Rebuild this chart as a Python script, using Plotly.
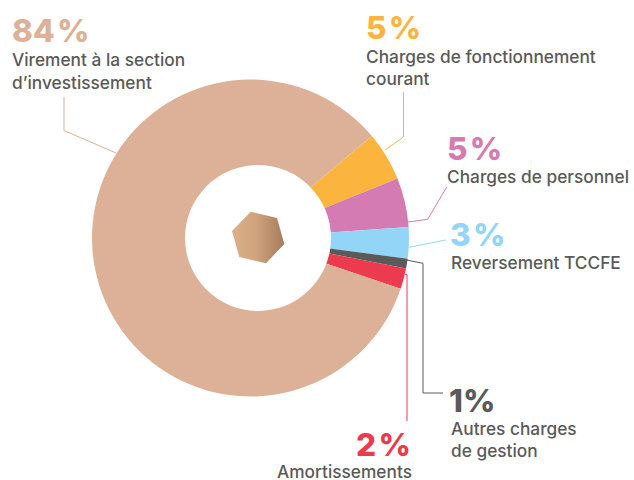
import plotly.graph_objects as go

W, H = 634, 480
FONT = "Inter"
labels = ["Charges de fonctionnement courant", "Charges de personnel", "Reversement TCCFE",
          "Autres charges de gestion", "Amortissements", "Virement à la section d'investissement"]
values = [5.0, 5.0, 3.2, 1.0, 2.1, 83.7]
colors = ["#FBB53F", "#D37BB2", "#93D5F7", "#5A5A58", "#EC3A4E", "#DDB198"]
GREY = "#5A5A58"

big = [("84\u200a%", 12, 30.5, "#DDB198", "left"), ("5\u200a%", 366, 27, "#FBB53F", "left"),
       ("5\u200a%", 447, 148, "#D37BB2", "left"), ("3\u200a%", 450, 234, "#93D5F7", "left"),
       ("1%", 449, 400, GREY, "left"), ("2\u200a%", 411, 444, "#EC3A4E", "right")]
small = [("Virement à la section", 12, 59, "left"), ("d’investissement", 12, 82, "left"),
         ("Charges de fonctionnement", 366, 56, "left"), ("courant", 366, 78, "left"),
         ("Charges de personnel", 447, 176, "left"), ("Reversement TCCFE", 451, 262, "left"),
         ("Autres charges", 451, 428, "left"), ("de gestion", 451, 450, "left"),
         ("Amortissements", 412, 471, "right")]
leaders = [([64, 64, 116], [97, 130.5, 153], "#DDB198"),
           ([403.5, 403.5, 385], [92, 137, 150], "#FBB53F"),
           ([446.7, 427.7, 408], [187, 219.3, 222], "#D37BB2"),
           ([409, 445.7], [247.3, 240], "#93D5F7"),
           ([406.7, 423, 423, 443], [260, 263.3, 393, 393], GREY),
           ([405, 407, 407], [274.3, 274.3, 421], "#EC3A4E")]
hexagon_x = [250.7, 277, 284.3, 266, 239.3, 232, 250.7]
hexagon_y = [211.7, 218, 244, 263.3, 257, 231, 211.7]

fig = go.Figure()
fig.add_trace(go.Pie(labels=labels, values=values, hole=40 / 158.5, rotation=50, direction="clockwise",
                     sort=False, textinfo="none", hoverinfo="label+percent",
                     marker=dict(colors=colors, line=dict(color="white", width=0)),
                     domain=dict(x=[92 / W, 409 / W], y=[1 - 396.5 / H, 1 - 79.5 / H]),
                     showlegend=False))
# The white centre is not concentric with the slices: a white ring sits over them.
fig.add_trace(go.Pie(labels=["centre"], values=[1], hole=30 / 73, textinfo="none", hoverinfo="skip",
                     marker=dict(colors=["white"], line=dict(color="white", width=0)),
                     domain=dict(x=[185 / W, 331 / W], y=[1 - 311 / H, 1 - 165 / H]),
                     showlegend=False))
for xs, ys, c in leaders:
    fig.add_trace(go.Scatter(x=xs, y=ys, mode="lines", line=dict(color=c, width=1),
                             hoverinfo="skip", showlegend=False))
fig.add_trace(go.Scatter(x=hexagon_x, y=hexagon_y, mode="lines", line=dict(width=0), fill="toself",
                         fillgradient=dict(type="horizontal",
                                           colorscale=[[0, "#DDB188"], [0.45, "#CFA47E"], [1, "#A67C5B"]]),
                         hoverinfo="skip", showlegend=False))
for t, x, y, c, a in big:
    fig.add_annotation(x=x, y=y, text=t, showarrow=False, xanchor=a, yanchor="middle",
                       xshift=-2 if a == "left" else 2,
                       font=dict(family=FONT, size=31.5, color=c, weight=800))
for t, x, y, a in small:
    fig.add_annotation(x=x, y=y, text=t, showarrow=False, xanchor=a, yanchor="middle",
                       xshift=-2 if a == "left" else 2,
                       font=dict(family=FONT, size=17.3, color=GREY, weight=500))

fig.update_layout(width=W, height=H, margin=dict(l=0, r=0, t=0, b=0), paper_bgcolor="white",
                  plot_bgcolor="white",
                  xaxis=dict(range=[0, W], visible=False, fixedrange=True),
                  yaxis=dict(range=[H, 0], visible=False, fixedrange=True))
fig.write_html("out.html", config=dict(displayModeBar=False),
               post_script="document.body.style.margin='0';document.documentElement.style.overflow='hidden';")
